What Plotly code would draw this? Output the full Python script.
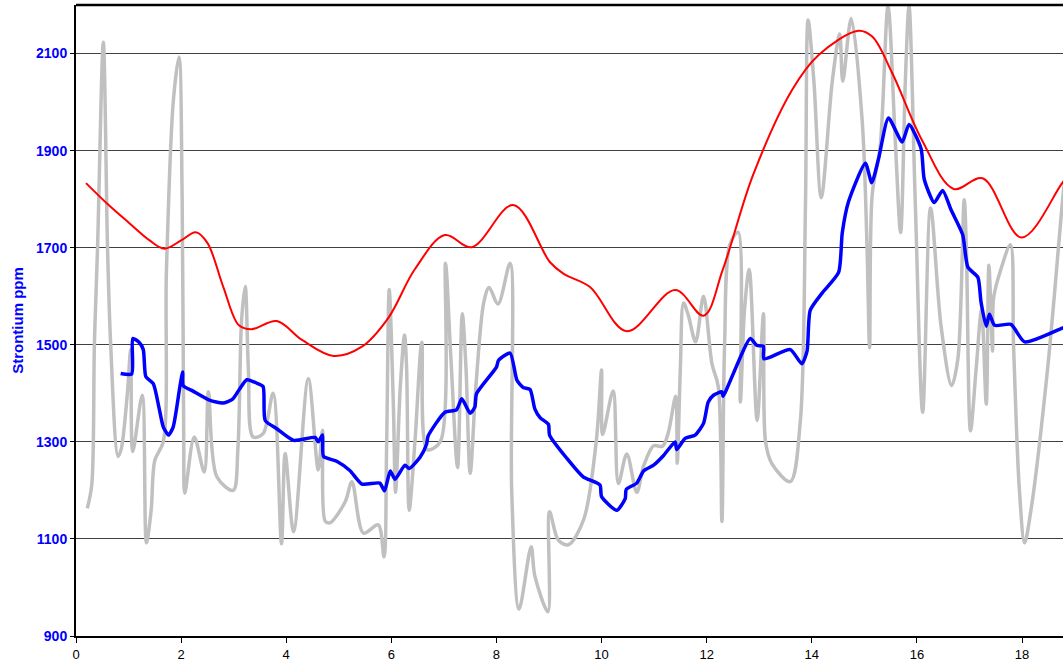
import plotly.graph_objects as go

# Raw strontium profile (grey)
raw_x = [0.215, 0.30, 0.35, 0.41, 0.52, 0.60, 0.66, 0.80, 0.86, 0.98, 1.04, 1.08, 1.26, 1.34, 1.43,
         1.50, 1.66, 1.72, 1.85, 1.96, 2.02, 2.05, 2.07, 2.25, 2.44, 2.52, 2.68, 2.99, 3.08, 3.15,
         3.22, 3.28, 3.37, 3.56, 3.75, 3.91, 3.98, 4.14, 4.42, 4.61, 4.69, 4.74, 4.83, 5.12, 5.25,
         5.47, 5.75, 5.86, 5.91, 5.96, 6.04, 6.08, 6.17, 6.25, 6.29, 6.34, 6.45, 6.58, 6.68, 6.93,
         7.03, 7.13, 7.26, 7.35, 7.42, 7.50, 7.61, 7.76, 7.86, 8.03, 8.26, 8.29, 8.43, 8.66, 8.73,
         8.98, 9.01, 9.18, 9.37, 9.66, 9.90, 10.0, 10.02, 10.22, 10.32, 10.48, 10.67, 10.80, 10.99,
         11.16, 11.27, 11.41, 11.44, 11.50, 11.56, 11.65, 11.79, 11.94, 12.10, 12.22, 12.29, 12.34,
         12.44, 12.60, 12.64, 12.72, 12.81, 12.96, 13.08, 13.12, 13.24, 13.59, 13.78, 13.88, 13.93,
         14.04, 14.18, 14.39, 14.53, 14.59, 14.75, 14.96, 15.05, 15.10, 15.15, 15.30, 15.45, 15.59,
         15.69, 15.78, 15.85, 15.97, 16.11, 16.26, 16.46, 16.66, 16.78, 16.90, 16.94, 17.02, 17.13,
         17.23, 17.32, 17.37, 17.44, 17.46, 17.60, 17.78, 17.84, 17.95, 18.05, 18.17, 18.49, 18.78,
         18.95]
raw_sr = [1163, 1212, 1500, 1700, 2123, 1700, 1500, 1270, 1285, 1403, 1490, 1280, 1396, 1092, 1159,
          1262, 1300, 1650, 2000, 2093, 1800, 1300, 1194, 1310, 1238, 1403, 1228, 1200, 1285, 1550,
          1620, 1450, 1310, 1317, 1400, 1090, 1276, 1115, 1430, 1242, 1324, 1137, 1133, 1176, 1218,
          1112, 1129, 1063, 1290, 1614, 1370, 1196, 1412, 1520, 1454, 1159, 1302, 1505, 1284, 1300,
          1668, 1479, 1247, 1564, 1454, 1235, 1416, 1588, 1618, 1584, 1668, 1200, 955, 1084, 1024,
          950, 1156, 1097, 1088, 1140, 1302, 1448, 1315, 1405, 1214, 1275, 1196, 1250, 1292,
          1291, 1319, 1394, 1256, 1454, 1586, 1561, 1506, 1600, 1461, 1414, 1136, 1496,
          1706, 1732, 1382, 1572, 1655, 1344, 1564, 1300, 1255, 1218, 1340, 1790, 2169,
          2043, 1803, 2043, 2140, 2043, 2172, 1960, 1706, 1494, 1810, 1907, 2198, 1917,
          1731, 2043, 2198, 1790, 1361, 1782, 1538, 1416, 1471, 1799, 1706, 1323, 1454,
          1572, 1378, 1664, 1487, 1597, 1656, 1706, 1496, 1201, 1092, 1159, 1454, 1807,
          1990]

# Running-mean profile (blue)
mean_x = [0.85, 1.06, 1.08, 1.20, 1.28, 1.33, 1.47, 1.58, 1.66, 1.76, 1.85, 1.98, 2.03, 2.04, 2.22,
          2.54, 2.79, 2.98, 3.12, 3.25, 3.44, 3.56, 3.60, 3.82, 4.14, 4.55, 4.61, 4.69, 4.71, 4.96,
          5.21, 5.44, 5.78, 5.87, 5.98, 6.07, 6.26, 6.34, 6.55, 6.67, 6.70, 7.02, 7.24, 7.34, 7.50,
          7.59, 7.62, 8.00, 8.04, 8.26, 8.39, 8.51, 8.64, 8.73, 8.83, 8.99, 9.01, 9.34, 9.65, 9.97,
          10.0, 10.29, 10.45, 10.47, 10.67, 10.80, 10.99, 11.18, 11.40, 11.43, 11.59, 11.78, 11.94,
          12.03, 12.13, 12.29, 12.31, 12.83, 12.95, 13.08, 13.09, 13.59, 13.81, 13.91, 13.97, 14.20,
          14.51, 14.58, 14.70, 15.02, 15.14, 15.27, 15.46, 15.72, 15.85, 16.08, 16.14, 16.33, 16.49,
          16.65, 16.87, 16.97, 17.16, 17.22, 17.32, 17.38, 17.48, 17.79, 18.05, 18.78, 18.95]
mean_sr = [1441, 1440, 1513, 1505, 1490, 1434, 1420, 1370, 1331, 1314, 1331, 1416, 1444, 1416, 1405,
           1386, 1380, 1388, 1410, 1428, 1421, 1414, 1344, 1327, 1303, 1309, 1300, 1314, 1270, 1260,
           1241, 1213, 1215, 1199, 1240, 1223, 1252, 1245, 1269, 1295, 1312, 1361, 1366, 1389, 1359,
           1372, 1399, 1454, 1468, 1483, 1427, 1412, 1408, 1368, 1350, 1336, 1314, 1266, 1228, 1211,
           1187, 1159, 1183, 1202, 1215, 1240, 1252, 1272, 1300, 1284, 1307, 1314, 1338,
           1382, 1396, 1403, 1394, 1513, 1499, 1497, 1471, 1490, 1461, 1487, 1571, 1607,
           1649, 1731, 1795, 1874, 1834, 1883, 1967, 1918, 1954, 1904, 1841, 1793, 1818,
           1778, 1727, 1660, 1639, 1588, 1538, 1563, 1540, 1542, 1506, 1535, 1543]

# Smoothed trend (red)
trend_x = [0.19, 0.60, 1.00, 1.40, 1.68, 2.00, 2.28, 2.50, 2.80, 3.10, 3.34, 3.82, 4.30, 4.90, 5.44,
           5.94, 6.45, 7.02, 7.53, 8.32, 9.02, 9.28, 9.78, 10.48, 11.40, 11.94, 12.31, 12.88, 13.63,
           14.13, 14.89, 15.15, 15.53, 16.10, 16.70, 17.25, 17.99, 18.75, 18.95]
trend_sr = [1833, 1790, 1752, 1715, 1698, 1715, 1732, 1710, 1620, 1540, 1532, 1549, 1510, 1477, 1496,
            1555, 1656, 1726, 1701, 1788, 1670, 1646, 1619, 1528, 1613, 1560, 1656, 1849, 2026,
            2097, 2147, 2135, 2060, 1921, 1821, 1843, 1721, 1831, 1862]

x_ticks = [0, 2, 4, 6, 8, 10, 12, 14, 16, 18]
y_ticks = [900, 1100, 1300, 1500, 1700, 1900, 2100]

fig = go.Figure()
fig.add_trace(go.Scatter(x=raw_x, y=raw_sr, mode="lines",
                         line=dict(color="#C0C0C0", width=3.5, shape="spline", smoothing=0.9)))
fig.add_trace(go.Scatter(x=trend_x, y=trend_sr, mode="lines",
                         line=dict(color="#FF0000", width=2, shape="spline", smoothing=1.0)))
fig.add_trace(go.Scatter(x=mean_x, y=mean_sr, mode="lines",
                         line=dict(color="#0000FF", width=3.5, shape="spline", smoothing=0.6)))

fig.update_layout(
    width=1063, height=663,
    margin=dict(l=76, r=0, t=5, b=27),
    paper_bgcolor="white", plot_bgcolor="white",
    showlegend=False,
    font=dict(family="Liberation Sans, Arial, sans-serif"),
    xaxis=dict(
        range=[0, 18.78], tickvals=x_ticks, ticktext=[str(v) for v in x_ticks],
        showgrid=False, zeroline=False,
        showline=True, linecolor="black", linewidth=2,
        ticks="outside", ticklen=5, tickcolor="black", tickwidth=1,
        tickfont=dict(size=13, color="black"),
    ),
    yaxis=dict(
        range=[900, 2200], tickvals=y_ticks, ticktext=[str(v) for v in y_ticks],
        showgrid=True, gridcolor="#404040", gridwidth=1, zeroline=False,
        showline=True, linecolor="black", linewidth=2,
        ticks="outside", ticklen=4, tickcolor="black", tickwidth=1,
        tickfont=dict(size=14, color="#0000FF", family="Liberation Sans, Arial, sans-serif",
                      weight="bold"),
        title=dict(text="<b>Strontium ppm</b>", font=dict(size=15, color="#0000FF"), standoff=9),
    ),
    shapes=[dict(type="line", xref="paper", yref="paper", x0=0, x1=1, y0=1, y1=1,
                 line=dict(color="black", width=2.5))],
)

fig.write_html("out.html")
